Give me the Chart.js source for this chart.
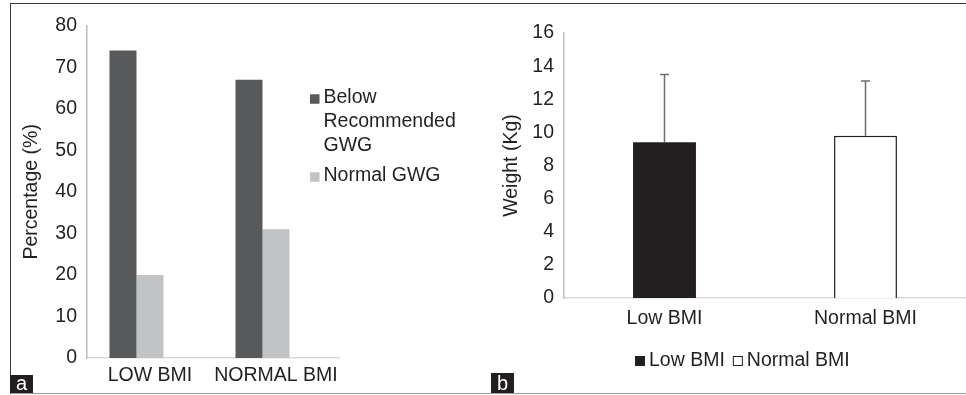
<!DOCTYPE html>
<html>
<head>
<meta charset="utf-8">
<script src="https://cdn.jsdelivr.net/npm/chart.js@4/dist/chart.umd.min.js"></script>
<style>
  html, body { margin: 0; padding: 0; background: #ffffff; }
  #fig { position: relative; width: 966px; height: 395px; overflow: hidden;
         font-family: 'Liberation Sans', Arial, sans-serif; }
  #frame { position: absolute; left: 10px; top: 3px; width: 956px; height: 391px;
           box-sizing: border-box; border-top: 1.5px solid #3a3a3a;
           border-left: 1px solid #3a3a3a; border-bottom: 1px solid #9c9c9c; }
  canvas { position: absolute; }
  #panelA { left: 10px; top: 4px; }
  #panelB { left: 480px; top: 4px; }
  .tag { position: absolute; background: #231f20; color: #ffffff; font-size: 20px;
         text-align: center; }
</style>
</head>
<body>
<div id="fig">
  <div id="frame"></div>
  <canvas id="panelA" width="470" height="390"></canvas>
  <canvas id="panelB" width="486" height="390"></canvas>
  <div class="tag" style="left:10px;top:375px;width:23px;height:18px;line-height:17px;">a</div>
  <div class="tag" style="left:491px;top:373px;width:23px;height:20px;line-height:20px;">b</div>
</div>
<script>
// Panel a: share of women by gestational weight gain (GWG) category
const gwgCategories = ['LOW BMI', 'NORMAL BMI'];
const belowRecommendedGwg = [74, 67];
const normalGwg = [20, 31];

// Panel b: mean weight gain (kg) with standard deviation
const bmiGroups = ['Low BMI', 'Normal BMI'];
const meanWeightGain = [9.4, 9.8];
const sdWeightGain = [4.1, 3.3];

const FONT = "'Liberation Sans', Arial, sans-serif";
const INK = '#231f20';
const FS = 19.5;
const fontMain = { family: FONT, size: FS };

// Legend stacked to the right of the plot, with word wrapping
const sideLegend = {
  id: 'sideLegend',
  afterDraw(chart, args, o) {
    const ctx = chart.ctx;
    ctx.save();
    ctx.font = `${o.size}px ${FONT}`;
    ctx.textBaseline = 'middle';
    ctx.fillStyle = INK;
    let y = o.y;
    chart.data.datasets.forEach(ds => {
      if (!ds.label) return;
      const words = ds.label.split(' ');
      const lines = [];
      let cur = '';
      words.forEach(w => {
        const t = cur ? cur + ' ' + w : w;
        if (cur && ctx.measureText(t).width > o.maxWidth) { lines.push(cur); cur = w; }
        else cur = t;
      });
      if (cur) lines.push(cur);
      ctx.fillStyle = ds.backgroundColor;
      ctx.fillRect(o.x, y - o.box / 2 + 1, o.box, o.box);
      ctx.fillStyle = INK;
      lines.forEach(ln => {
        ctx.fillText(ln, o.x + o.box + 4, y);
        y += o.lineGap;
      });
      y += o.itemGap - o.lineGap;
    });
    ctx.restore();
  }
};

// Legend laid out in a single row below the axis
const rowLegend = {
  id: 'rowLegend',
  afterDraw(chart, args, o) {
    const ctx = chart.ctx;
    ctx.save();
    ctx.font = `${o.size}px ${FONT}`;
    ctx.textBaseline = 'middle';
    let x = o.x;
    chart.data.datasets.forEach(ds => {
      ctx.fillStyle = ds.backgroundColor;
      ctx.fillRect(x, o.y - o.box / 2, o.box, o.box);
      if (ds.borderWidth) {
        ctx.strokeStyle = ds.borderColor;
        ctx.lineWidth = 1;
        ctx.strokeRect(x + 0.5, o.y - o.box / 2 + 0.5, o.box - 1, o.box - 1);
      }
      ctx.fillStyle = INK;
      const tx = x + o.box + 4;
      ctx.fillText(ds.label, tx, o.y);
      x = tx + ctx.measureText(ds.label).width + o.gap;
    });
    ctx.restore();
  }
};

// Upper standard-deviation whiskers on each bar
const errorBars = {
  id: 'errorBars',
  afterDatasetsDraw(chart, args, o) {
    const ctx = chart.ctx;
    const yScale = chart.scales.y;
    ctx.save();
    ctx.strokeStyle = o.color;
    ctx.lineWidth = o.width;
    chart.data.datasets.forEach((ds, di) => {
      chart.getDatasetMeta(di).data.forEach((bar, i) => {
        const v = ds.data[i];
        if (v == null) return;
        const top = yScale.getPixelForValue(v + o.sd[i]);
        ctx.beginPath();
        ctx.moveTo(bar.x, bar.y);
        ctx.lineTo(bar.x, top);
        ctx.moveTo(bar.x - o.cap / 2, top);
        ctx.lineTo(bar.x + o.cap / 2, top);
        ctx.stroke();
      });
    });
    ctx.restore();
  }
};

const barShape = { categoryPercentage: 0.643, barPercentage: 1 };

new Chart(document.getElementById('panelA'), {
  type: 'bar',
  data: {
    labels: gwgCategories,
    datasets: [
      { label: 'Below Recommended GWG', data: belowRecommendedGwg, backgroundColor: '#58595b', ...barShape },
      { label: 'Normal GWG', data: normalGwg, backgroundColor: '#c2c3c5', ...barShape },
      // empty third slot in each group
      { label: '', data: gwgCategories.map(() => null), backgroundColor: 'rgba(0,0,0,0)', ...barShape }
    ]
  },
  options: {
    responsive: false,
    animation: false,
    devicePixelRatio: 1,
    layout: { padding: { top: 18, right: 141, bottom: 0, left: 0 } },
    plugins: {
      legend: { display: false },
      tooltip: { enabled: false },
      sideLegend: { x: 300, y: 94, box: 9.5, size: FS, maxWidth: 140, lineGap: 24, itemGap: 30 }
    },
    scales: {
      x: {
        grid: { display: false, drawTicks: false },
        border: { display: true, color: '#d9d9d9', width: 1.5 },
        ticks: { color: INK, font: fontMain, padding: 6, maxRotation: 0, autoSkip: false },
        afterFit(s) { s.height = 36; }
      },
      y: {
        min: 0, max: 80,
        grid: { display: false, drawTicks: false },
        border: { display: true, color: '#bdbdbd', width: 1.5 },
        ticks: { stepSize: 10, color: INK, font: fontMain, padding: 10 },
        title: { display: true, text: 'Percentage (%)', color: INK, font: fontMain, padding: { top: 10, bottom: 0 } },
        afterFit(s) { s.width = 77; }
      }
    }
  },
  plugins: [sideLegend]
});

new Chart(document.getElementById('panelB'), {
  type: 'bar',
  data: {
    labels: bmiGroups,
    datasets: [
      { label: bmiGroups[0], data: meanWeightGain.map((v, i) => i === 0 ? v : null),
        backgroundColor: '#231f20', borderColor: '#231f20', borderWidth: 0,
        categoryPercentage: 1, barPercentage: 0.313 },
      { label: bmiGroups[1], data: meanWeightGain.map((v, i) => i === 1 ? v : null),
        backgroundColor: '#ffffff', borderColor: '#231f20', borderWidth: 1.5,
        categoryPercentage: 1, barPercentage: 0.313 }
    ]
  },
  options: {
    responsive: false,
    animation: false,
    devicePixelRatio: 1,
    layout: { padding: { top: 29, right: 0, bottom: 0, left: 0 } },
    plugins: {
      legend: { display: false },
      tooltip: { enabled: false },
      errorBars: { sd: sdWeightGain, color: '#6d6e70', width: 1.5, cap: 9 },
      rowLegend: { x: 155, y: 357, box: 10, size: FS, gap: 8 }
    },
    scales: {
      x: {
        stacked: true,
        grid: { display: false, drawTicks: false },
        border: { display: true, color: '#d9d9d9', width: 1.5 },
        ticks: { color: INK, font: fontMain, padding: 9, maxRotation: 0, autoSkip: false },
        afterFit(s) { s.height = 96; }
      },
      y: {
        stacked: true,
        min: 0, max: 16,
        grid: { display: false, drawTicks: false },
        border: { display: true, color: '#bdbdbd', width: 1.5 },
        ticks: { stepSize: 2, color: INK, font: fontMain, padding: 10 },
        title: { display: true, text: 'Weight (Kg)', color: INK, font: fontMain, padding: { top: 20, bottom: 0 } },
        afterFit(s) { s.width = 84; }
      }
    }
  },
  plugins: [errorBars, rowLegend]
});
</script>
</body>
</html>
